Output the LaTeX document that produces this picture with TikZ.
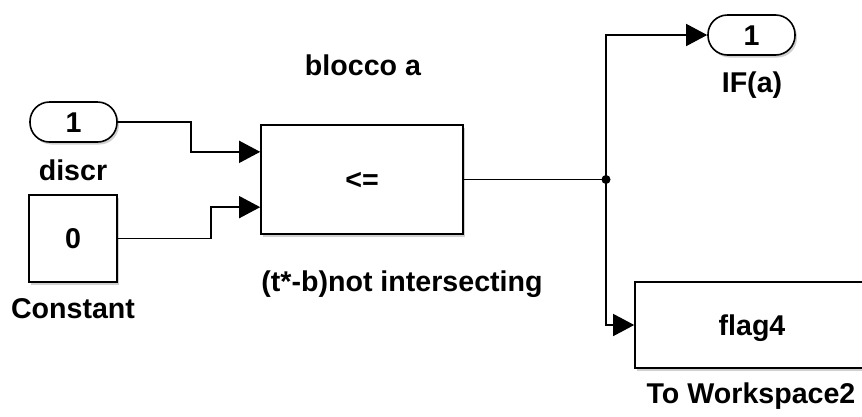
\documentclass[tikz,border=0pt]{standalone}
\usepackage{fontspec}
\setmainfont{Liberation Sans}
\usetikzlibrary{arrows.meta,shadows,calc}
\begin{document}
\begin{tikzpicture}[x=1pt,y=-1pt,
  font=\fontsize{28.6}{32}\selectfont\bfseries,
  blk/.style={draw=black, fill=white, line width=1.6pt, inner sep=0pt,
     text height=20pt, text depth=0pt,
     drop shadow={shadow xshift=2pt, shadow yshift=-2.5pt, fill=gray!60, opacity=0.6}},
  port/.style={blk, rounded corners=19.5pt, minimum width=87pt, minimum height=40pt},
  lbl/.style={anchor=base, inner sep=0pt},
  wire/.style={draw=black, line width=1.4pt},
  arr/.style={wire, -{Triangle[length=21pt,width=22pt]}}]
\useasboundingbox (0,0) rectangle (862,416);
\clip (0,0) rectangle (862,416);
\fill[white] (0,0) rectangle (862,416);
% blocks
\node[port] (in1) at (73.5,122) {1};
\node[blk, minimum width=88pt, minimum height=87pt] (const) at (73,238.5) {0};
\node[blk, minimum width=202pt, minimum height=109pt] (cmp) at (362,179.5) {<=};
\node[port] (out1) at (751.5,35) {1};
\node[blk, minimum width=234pt, minimum height=86pt] (ws) at (752,325) {flag4};
% labels
\node[lbl] (ldiscr) at (73,180) {discr};
\node[lbl] (lconst) at (73,318) {Constant};
\node[lbl] (lcmp) at (363,75) {blocco a};
\node[lbl] (lcmp2) at (402,291) {(t*-b)not intersecting};
\node[lbl] (lout) at (752,92) {IF(a)};
\node[lbl] (lws) at (751,403) {To Workspace2};
% ports
\coordinate (p1) at ($(cmp.north west)!0.25!(cmp.south west)$);
\coordinate (p2) at ($(cmp.north west)!0.75!(cmp.south west)$);
\coordinate (j) at (606,179.5);
% wires
\draw[arr] (in1.east) -- ++(73,0) |- (p1);
\draw[arr] (const.east) -- ++(93,0) |- (p2);
\draw[wire] (cmp.east) -- (j);
\draw[arr] (j) |- (out1.west);
\draw[arr] (j) |- (ws.west);
\fill (j) circle (4.5pt);
\end{tikzpicture}
\end{document}
